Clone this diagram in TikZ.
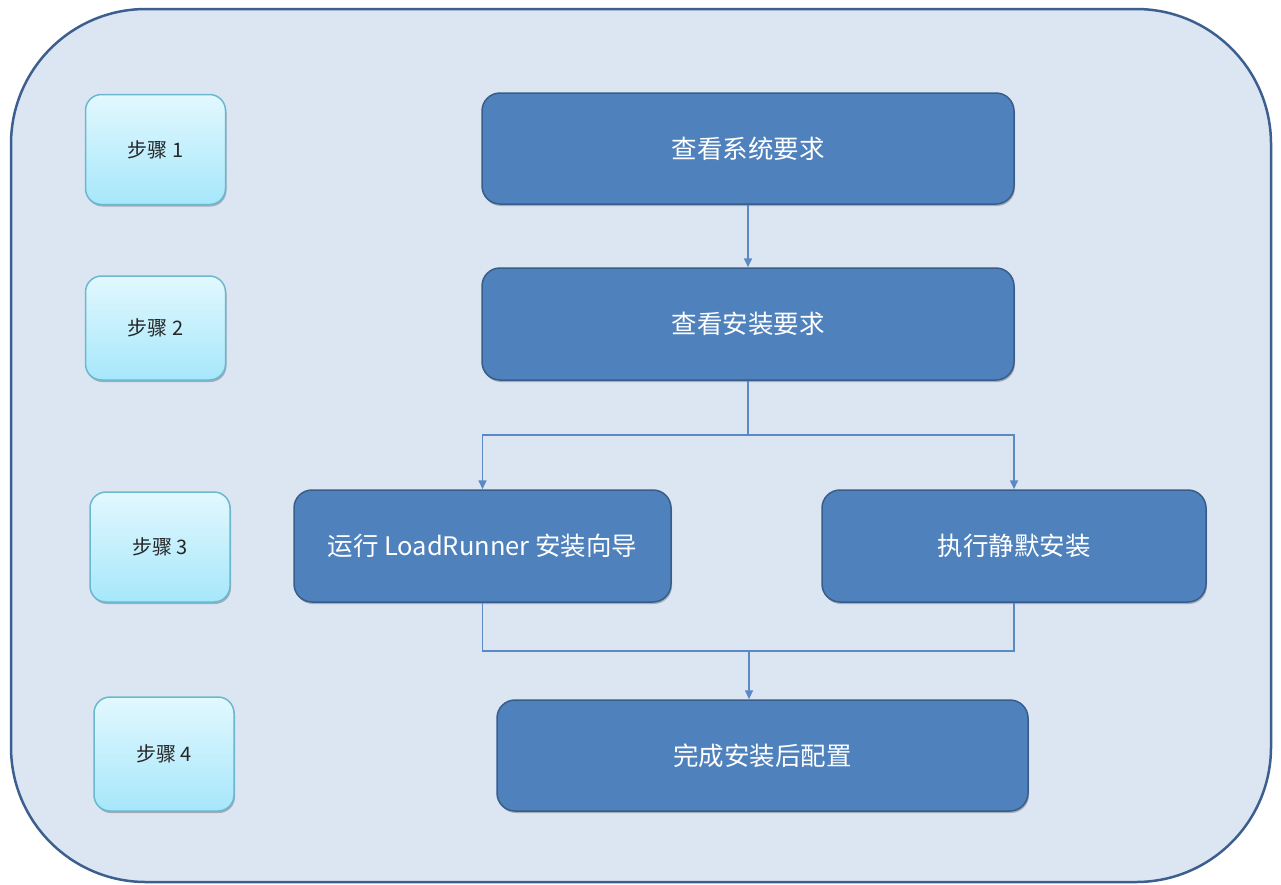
\documentclass[tikz,border=0pt]{standalone}
\usepackage{fontspec}
\setmainfont{Noto Sans CJK SC}
\usetikzlibrary{shadows,arrows.meta}
\definecolor{outerfill}{HTML}{DCE6F2}
\definecolor{outerdraw}{HTML}{3D5F8F}
\definecolor{bluefill}{HTML}{4F81BD}
\definecolor{bluedraw}{HTML}{385D8A}
\definecolor{steptop}{HTML}{E2F8FE}
\definecolor{stepbot}{HTML}{A6E7FB}
\definecolor{stepdraw}{HTML}{6BB8CE}
\definecolor{linkc}{HTML}{5A8AC6}
\tikzset{
  bluebox/.style={draw=bluedraw, line width=1.5pt, fill=bluefill, rounded corners=18pt,
    text=white, font=\fontsize{25.5}{28}\selectfont, inner sep=0pt,
    drop shadow={shadow xshift=1pt, shadow yshift=-2pt, opacity=0.25, fill=black}},
  stepbox/.style={draw=stepdraw, line width=1.5pt, top color=steptop, bottom color=stepbot,
    rounded corners=16pt, text=black!85, font=\fontsize{20}{23}\selectfont, inner sep=0pt,
    drop shadow={shadow xshift=1pt, shadow yshift=-2pt, opacity=0.25, fill=black},
    minimum width=140pt, minimum height=110pt},
  link/.style={draw=linkc, line width=1.6pt},
  arr/.style={link, -{Triangle[length=9pt,width=8pt]}}
}
\begin{document}
\begin{tikzpicture}[x=1pt,y=-1pt]
\useasboundingbox (0,0) rectangle (1281,884);
\draw[outerdraw, line width=2.5pt, fill=outerfill, rounded corners=135pt] (11,9) rectangle (1271,882);

\node[stepbox] (s1) at (155.5,149.5) {步骤 1};
\node[stepbox, minimum height=104pt] (s2) at (155.5,328) {步骤 2};
\node[stepbox] (s3) at (160,547) {步骤 3};
\node[stepbox, minimum height=114pt] (s4) at (164,754) {步骤 4};

\node[bluebox, minimum width=532pt, minimum height=111pt] (b1) at (748,148.5) {查看系统要求};
\node[bluebox, minimum width=532pt, minimum height=112pt] (b2) at (748,324) {查看安装要求};
\node[bluebox, minimum width=377pt, minimum height=112pt] (b3) at (482.5,546) {运行 LoadRunner 安装向导};
\node[bluebox, minimum width=384pt, minimum height=112pt] (b4) at (1014,546) {执行静默安装};
\node[bluebox, minimum width=531pt, minimum height=111pt] (b5) at (762.5,755.5) {完成安装后配置};

\coordinate (split) at (748,435);
\coordinate (join) at (749,651);

\draw[arr] (b1.south) -- (b2.north);
\draw[link] (b2.south) -- (split);
\draw[arr] (split) -| (b3.north);
\draw[arr] (split) -| (b4.north);
\draw[link] (b3.south) |- (join);
\draw[link] (b4.south) |- (join);
\draw[arr] (join) -- (join |- b5.north);
\end{tikzpicture}
\end{document}
